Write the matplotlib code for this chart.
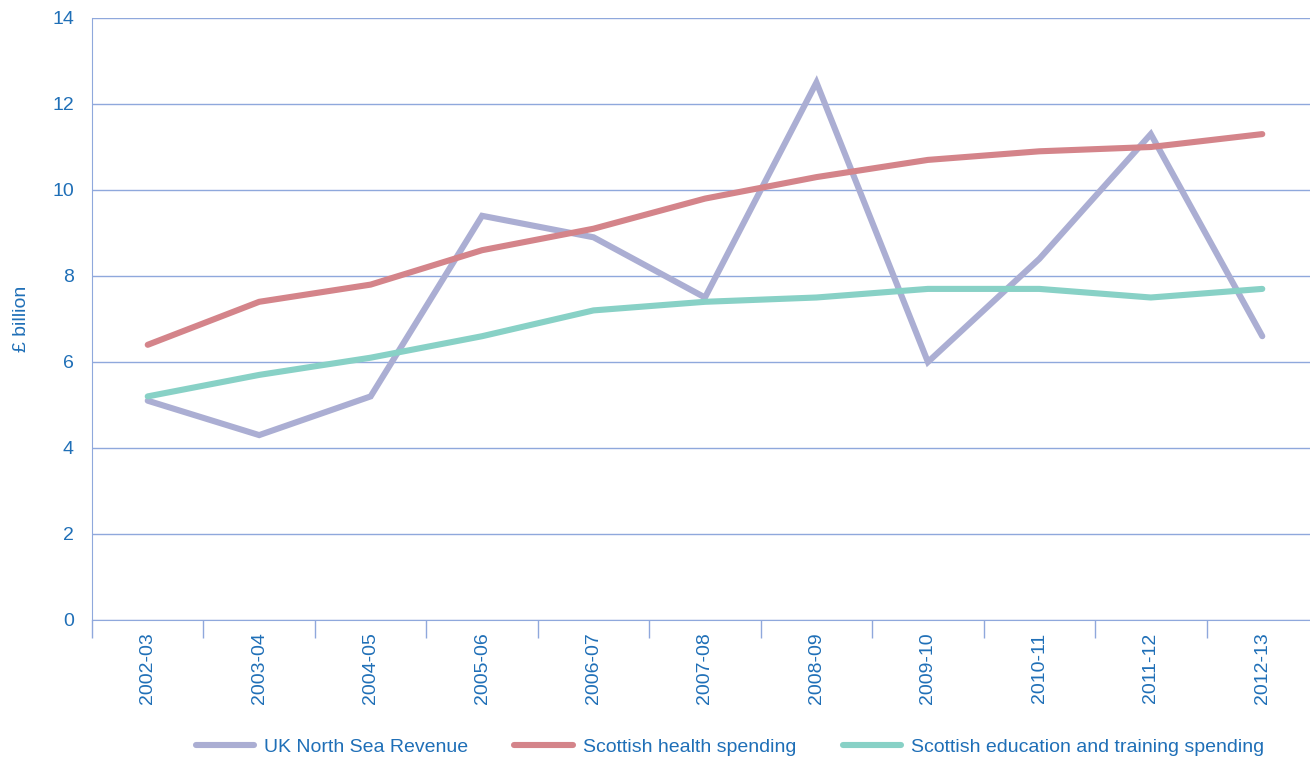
import numpy as np
import matplotlib.pyplot as plt

plt.rcParams['font.family'] = ['Liberation Sans', 'DejaVu Sans']

years = ['2002-03', '2003-04', '2004-05', '2005-06', '2006-07', '2007-08',
         '2008-09', '2009-10', '2010-11', '2011-12', '2012-13']
north_sea = [5.1, 4.3, 5.2, 9.4, 8.9, 7.5, 12.5, 6.0, 8.4, 11.3, 6.6]
health = [6.4, 7.4, 7.8, 8.6, 9.1, 9.8, 10.3, 10.7, 10.9, 11.0, 11.3]
education = [5.2, 5.7, 6.1, 6.6, 7.2, 7.4, 7.5, 7.7, 7.7, 7.5, 7.7]

txt = '#1f6fb7'
grid = '#8fa8dc'
fs = 14

fig = plt.figure(figsize=(13.1, 7.58), dpi=100)
# axes runs a little past the right edge, as in the print layout
ax = fig.add_axes([92 / 1310, 138 / 758, 1226 / 1310, 602 / 758])

x = np.arange(len(years))
ax.plot(x, north_sea, color='#abaed3', lw=4.4, solid_capstyle='round',
        solid_joinstyle='miter', label='UK North Sea Revenue', zorder=3)
ax.plot(x, health, color='#d4848a', lw=4.4, solid_capstyle='round',
        label='Scottish health spending', zorder=3)
ax.plot(x, education, color='#88d1c6', lw=4.4, solid_capstyle='round',
        label='Scottish education and training spending', zorder=3)

ax.set_xlim(-0.5, len(years) - 0.5)
ax.set_ylim(0, 14)
ax.set_yticks(np.arange(0, 15, 2))
ax.yaxis.grid(True, color=grid, lw=1)
ax.set_axisbelow(True)

ax.set_xticks(x)
ax.set_xticklabels(years, rotation=90, color=txt, fontsize=fs)
ax.set_xticks(np.arange(-0.5, len(years), 1), minor=True)
ax.tick_params(axis='x', which='major', length=0, pad=9)
ax.tick_params(axis='x', which='minor', length=13, color=grid, width=1)
ax.tick_params(axis='y', length=0, pad=13, labelcolor=txt, labelsize=fs)

for s in ['top', 'right']:
    ax.spines[s].set_visible(False)
ax.spines['left'].set_color(grid)
ax.spines['bottom'].set_color(grid)

ax.set_ylabel('£ billion', color=txt, fontsize=fs, labelpad=16)

fig.legend(loc='lower center', bbox_to_anchor=(0.557, -0.02), ncol=3, frameon=False,
           fontsize=fs, labelcolor=txt, handlelength=3.0, handletextpad=0.5,
           columnspacing=2.4)

fig.savefig('out.png', dpi=100)
